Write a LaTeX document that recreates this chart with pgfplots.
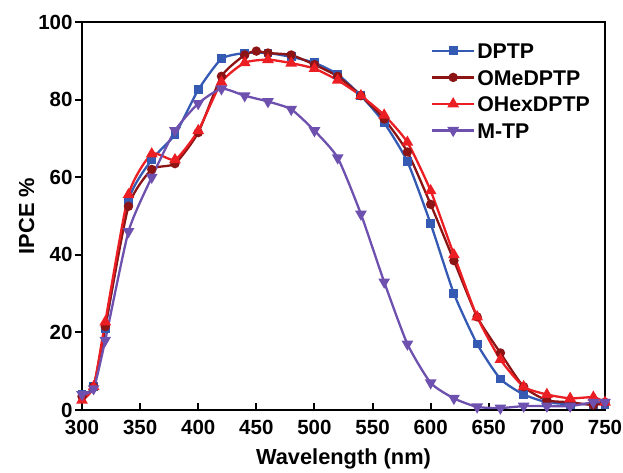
\documentclass[border=0pt]{standalone}
\usepackage{pgfplots}
\pgfplotsset{compat=1.18}
\usepackage{fontspec}
\setmainfont{Liberation Sans}
\definecolor{cDPTP}{RGB}{52,90,180}
\definecolor{cOMe}{RGB}{140,20,20}
\definecolor{cOHex}{RGB}{235,30,35}
\definecolor{cMTP}{RGB}{110,80,175}
\begin{document}
\begin{tikzpicture}
\begin{axis}[
  scale only axis, width=523bp, height=388bp,
  xmin=300, xmax=750, ymin=0, ymax=100,
  xtick={300,350,...,750}, ytick={0,20,...,100},
  tick pos=left,
  xtick align=inside, ytick align=outside,
  major tick length=7bp,
  axis line style={line width=2.2bp},
  every tick/.style={line width=2bp, black},
  /pgf/number format/assume math mode=true,
  ticklabel style={font=\fontsize{20.5bp}{24bp}\selectfont\bfseries},
  xticklabel style={yshift=-7bp},
  yticklabel style={xshift=1bp},
  label style={font=\fontsize{21.8bp}{26bp}\selectfont\bfseries},
  xlabel={Wavelength (nm)}, ylabel={IPCE \%},
  xlabel style={yshift=-7bp},
  ylabel style={yshift=-3bp},
  legend cell align=left,
  legend style={draw=none, fill=none, at={(rel axis cs:0.667,0.946)}, anchor=north west,
    inner sep=0pt, row sep=11bp,
    font=\fontsize{21.3bp}{25bp}\selectfont\bfseries,
    nodes={inner xsep=2bp, inner ysep=0pt, text height=15.5bp, text depth=0pt}},
  legend image code/.code={\draw[mark repeat=2,mark phase=2,sharp plot] plot coordinates {(0bp,0bp) (21bp,0bp) (42bp,0bp)};},
  every axis plot/.append style={line width=2.3bp, smooth, tension=0.35},
]
\addplot[color=cDPTP, mark=square*, mark size=3.3bp, mark options={solid}] coordinates {
(300,4) (310,6) (320,21) (340,54) (360,64.5) (380,71) (400,82.5) (420,90.5) (440,92) (460,92) (480,91) (500,89.5) (520,86.5) (540,81) (560,74) (580,64) (600,48) (620,30) (640,17) (660,8) (680,4) (700,2) (720,1.5) (740,1.5) (750,1.5)};
\addlegendentry{DPTP}
\addplot[color=cOMe, mark=*, mark size=3.5bp] coordinates {
(300,3.5) (310,6) (320,21.5) (340,52.5) (360,62) (380,63.5) (400,71.5) (420,86) (440,91.5) (450,92.5) (460,92) (480,91.5) (500,89) (520,86) (540,81) (560,75) (580,66.5) (600,53) (620,38.5) (640,24) (660,14.7) (680,6) (700,2.5) (720,2) (740,1.3) (750,2)};
\addlegendentry{OMeDPTP}
\addplot[color=cOHex, mark=triangle*, mark size=4.5bp] coordinates {
(300,2.5) (310,6) (320,22.7) (340,55.5) (360,66) (380,64.5) (400,72) (420,84.5) (440,89.5) (460,90.3) (480,89.4) (500,88) (520,85) (540,81) (560,76) (580,69) (600,56.5) (620,40) (640,24) (660,13) (680,6) (700,4) (720,3) (740,3.3) (750,2)};
\addlegendentry{OHexDPTP}
\addplot[color=cMTP, mark=triangle*, mark size=4.5bp, mark options={rotate=180}] coordinates {
(300,4) (310,5.5) (320,18) (340,46) (360,60) (380,72) (400,79) (420,82.8) (440,81) (460,79.5) (480,77.5) (500,72) (520,65) (540,50.5) (560,33) (580,17) (600,7) (620,3) (640,0.8) (660,0.5) (680,1) (700,1) (720,1) (740,2) (750,2)};
\addlegendentry{M-TP}
\coordinate (bl) at (rel axis cs:0,0);
\end{axis}
\pgfresetboundingbox
\path[use as bounding box] (bl) ++(-82bp,-63bp) rectangle ++(623bp,473bp);
\end{tikzpicture}
\end{document}
